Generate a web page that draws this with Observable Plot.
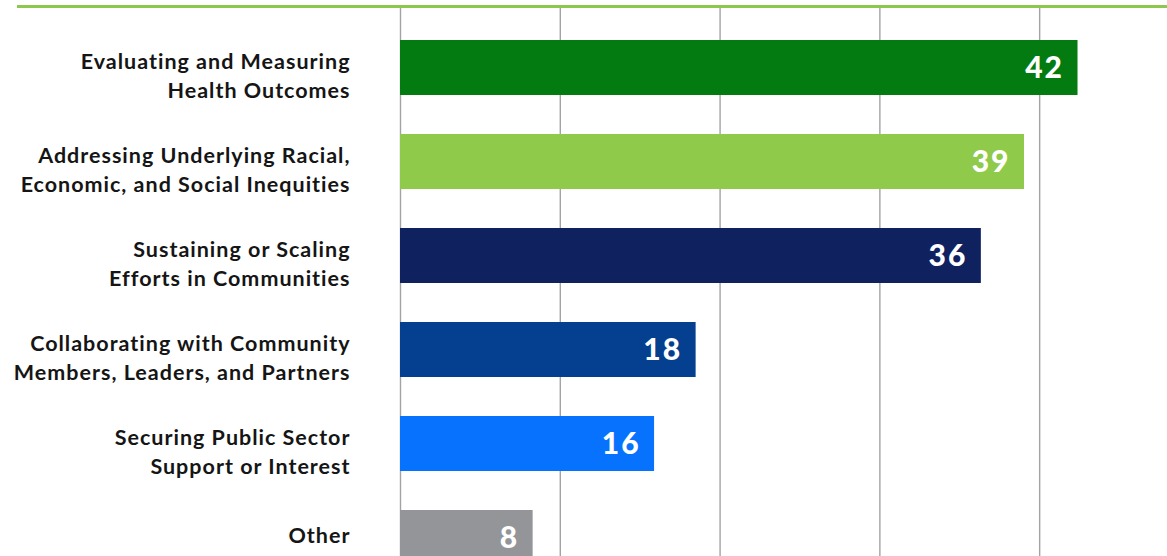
<!DOCTYPE html>
<html>
<head>
<meta charset="utf-8">
<script src="https://cdn.jsdelivr.net/npm/d3@7"></script>
<script src="https://cdn.jsdelivr.net/npm/@observablehq/plot@0.6"></script>
<style>
  html, body { margin: 0; padding: 0; background: #fff; overflow: hidden; }
  #wrap { position: relative; width: 1167px; height: 556px; overflow: hidden; }
  #topline { position: absolute; left: 17px; top: 5px; width: 1150px; height: 3px; background: #8cc84b; }
  #chart svg { display: block; }
</style>
</head>
<body>
<div id="wrap">
  <div id="chart"></div>
  <div id="topline"></div>
</div>
<script>
const categories = [
  "Evaluating and Measuring\nHealth Outcomes",
  "Addressing Underlying Racial,\nEconomic, and Social Inequities",
  "Sustaining or Scaling\nEfforts in Communities",
  "Collaborating with Community\nMembers, Leaders, and Partners",
  "Securing Public Sector\nSupport or Interest",
  "Other"
];
// bar lengths; labels as printed
const values = [42.4, 39.05, 36.35, 18.5, 15.9, 8.3];
const valueLabels = ["42", "39", "36", "18", "16", "8"];
const colors = ["#037b10", "#8fca4a", "#10215f", "#053f8f", "#0672fe", "#939598"];
const gridTicks = [0, 10, 20, 30, 40];

const data = categories.map((c, i) => ({category: c, value: values[i], label: valueLabels[i], color: colors[i]}));
const multi = data.filter(d => d.category.includes("\n"));
const single = data.filter(d => !d.category.includes("\n"));

const labelStyle = {
  y: "category", x: 0, text: "category", dx: -50, textAnchor: "end",
  lineHeight: 1.37, fontSize: 21.5, fontWeight: 700, fill: "#151515"
};

const chart = Plot.plot({
  width: 1167,
  height: 598,
  marginTop: 7,
  marginBottom: 0,
  marginLeft: 400,
  marginRight: 0,
  style: {background: "#fff", fontFamily: "Lato, sans-serif"},
  x: {domain: [0, 48], axis: null},
  y: {domain: categories, axis: null, paddingInner: 0.415, paddingOuter: 0.351},
  marks: [
    Plot.ruleX(gridTicks, {stroke: "#a3a3a3", strokeWidth: 1.4}),
    Plot.barX(data, {y: "category", x: "value", fill: "color"}),
    Plot.text(multi, {...labelStyle, dy: 6}),
    Plot.text(single, {...labelStyle, dy: -4}),
    Plot.text(data, {
      y: "category", x: "value", text: "label", dx: -14, textAnchor: "end",
      fontSize: 30, fontWeight: 900, fill: "#fff"
    })
  ]
});
const textGroups = d3.select(chart).selectAll("g[aria-label=text]");
textGroups.filter((d, i) => i < 2).attr("letter-spacing", "1px");
textGroups.filter((d, i) => i === 2).attr("letter-spacing", "2px");
document.getElementById("chart").appendChild(chart);
</script>
</body>
</html>
